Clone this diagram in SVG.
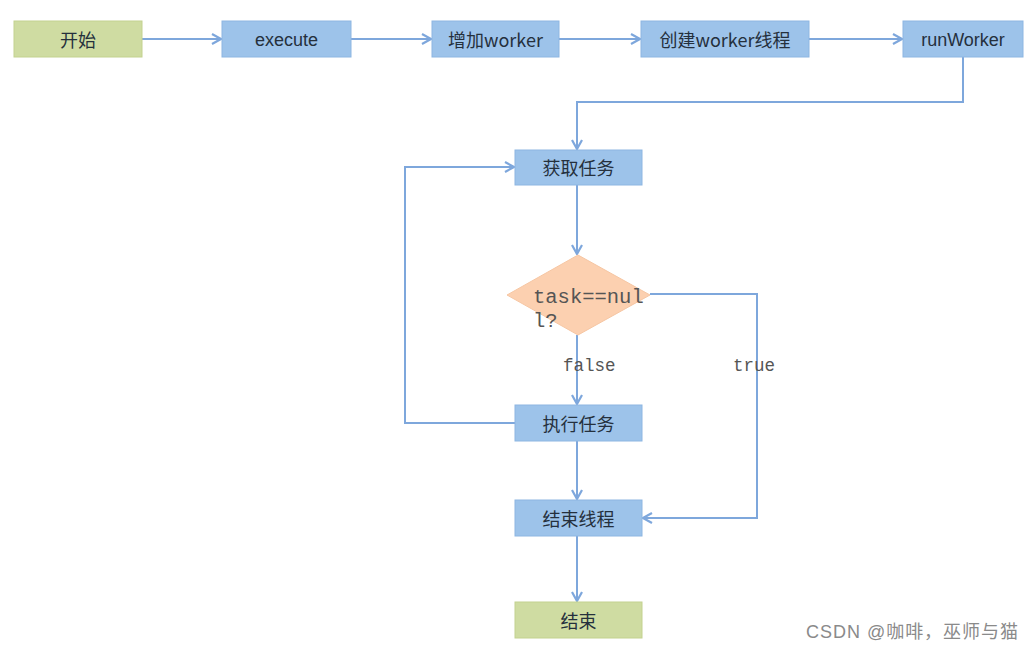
<svg xmlns="http://www.w3.org/2000/svg" width="1033" height="651" viewBox="0 0 1033 651">
<style>
.box{fill:#9dc3ea;stroke:#8db6e2;stroke-width:1}
.green{fill:#cfdca2;stroke:#c3d28f;stroke-width:1}
.dia{fill:#fcd0b0;stroke:#f6c6a3;stroke-width:1}
.t{font-family:"Noto Sans CJK SC","Liberation Sans",sans-serif;font-size:18px;fill:#25303d;text-anchor:middle;dominant-baseline:central}
.tl{font-family:"Liberation Sans","Noto Sans CJK SC",sans-serif;font-size:18px;fill:#25303d;text-anchor:middle;dominant-baseline:central}
.c{fill:none;stroke:#7ea7dc;stroke-width:2}
.lbl{font-family:"Liberation Mono",monospace;font-size:17.5px;fill:#555}
.dl{font-family:"Liberation Mono",monospace;font-size:20.5px;fill:#555}
.wm{font-family:"Liberation Sans","Noto Sans CJK SC",sans-serif;font-size:18px;fill:#8a8a8a}
</style>
<defs>
<marker id="ah" viewBox="0 0 12 12" refX="11" refY="6" markerWidth="12" markerHeight="12" markerUnits="userSpaceOnUse" orient="auto">
<path d="M2,1 L11,6 L2,11" fill="none" stroke="#7ea7dc" stroke-width="2.2"/>
</marker>
</defs>
<rect width="1033" height="651" fill="#ffffff"/>
<g id="connectors">
<line class="c" x1="142" y1="39" x2="221" y2="39" marker-end="url(#ah)"/>
<line class="c" x1="351" y1="39" x2="431" y2="39" marker-end="url(#ah)"/>
<line class="c" x1="559" y1="39" x2="640" y2="39" marker-end="url(#ah)"/>
<line class="c" x1="809" y1="39" x2="902" y2="39" marker-end="url(#ah)"/>
<polyline class="c" points="963,57 963,102 577,102 577,149" marker-end="url(#ah)"/>
<line class="c" x1="577" y1="185" x2="577" y2="254" marker-end="url(#ah)"/>
<line class="c" x1="577" y1="335" x2="577" y2="404" marker-end="url(#ah)"/>
<polyline class="c" points="650,294 757,294 757,518 643,518" marker-end="url(#ah)"/>
<polyline class="c" points="515,423 405,423 405,167 514,167" marker-end="url(#ah)"/>
<line class="c" x1="577" y1="441" x2="577" y2="499" marker-end="url(#ah)"/>
<line class="c" x1="577" y1="536" x2="577" y2="601" marker-end="url(#ah)"/>
<text class="lbl" x="563" y="371">false</text>
<text class="lbl" x="733" y="371">true</text>
</g>
<g id="start"><rect class="green" x="14" y="21" width="128" height="36"/><text class="t" x="78" y="39">开始</text></g>
<g id="execute"><rect class="box" x="222" y="21" width="129" height="36"/><text class="tl" x="286.5" y="40">execute</text></g>
<g id="addWorker"><rect class="box" x="432" y="21" width="127" height="36"/><text class="t" x="495.5" y="39">增加worker</text></g>
<g id="createWorker"><rect class="box" x="641" y="21" width="168" height="36"/><text class="t" x="725" y="39">创建worker线程</text></g>
<g id="runWorker"><rect class="box" x="903" y="21" width="120" height="36"/><text class="tl" x="963" y="40">runWorker</text></g>
<g id="getTask"><rect class="box" x="515" y="150" width="127" height="35"/><text class="t" x="578.5" y="167">获取任务</text></g>
<g id="decision"><polygon class="dia" points="578,255 650,295 578,335 507,295"/><text class="dl" x="533" y="303">task==nul</text><text class="dl" x="533" y="327">l?</text></g>
<g id="runTask"><rect class="box" x="515" y="405" width="127" height="36"/><text class="t" x="578.5" y="423">执行任务</text></g>
<g id="endThread"><rect class="box" x="515" y="500" width="127" height="36"/><text class="t" x="578.5" y="518">结束线程</text></g>
<g id="end"><rect class="green" x="515" y="602" width="127" height="36"/><text class="t" x="578.5" y="620">结束</text></g>
<text class="wm" x="806" y="638" textLength="212" lengthAdjust="spacing">CSDN @咖啡，巫师与猫</text>
</svg>
